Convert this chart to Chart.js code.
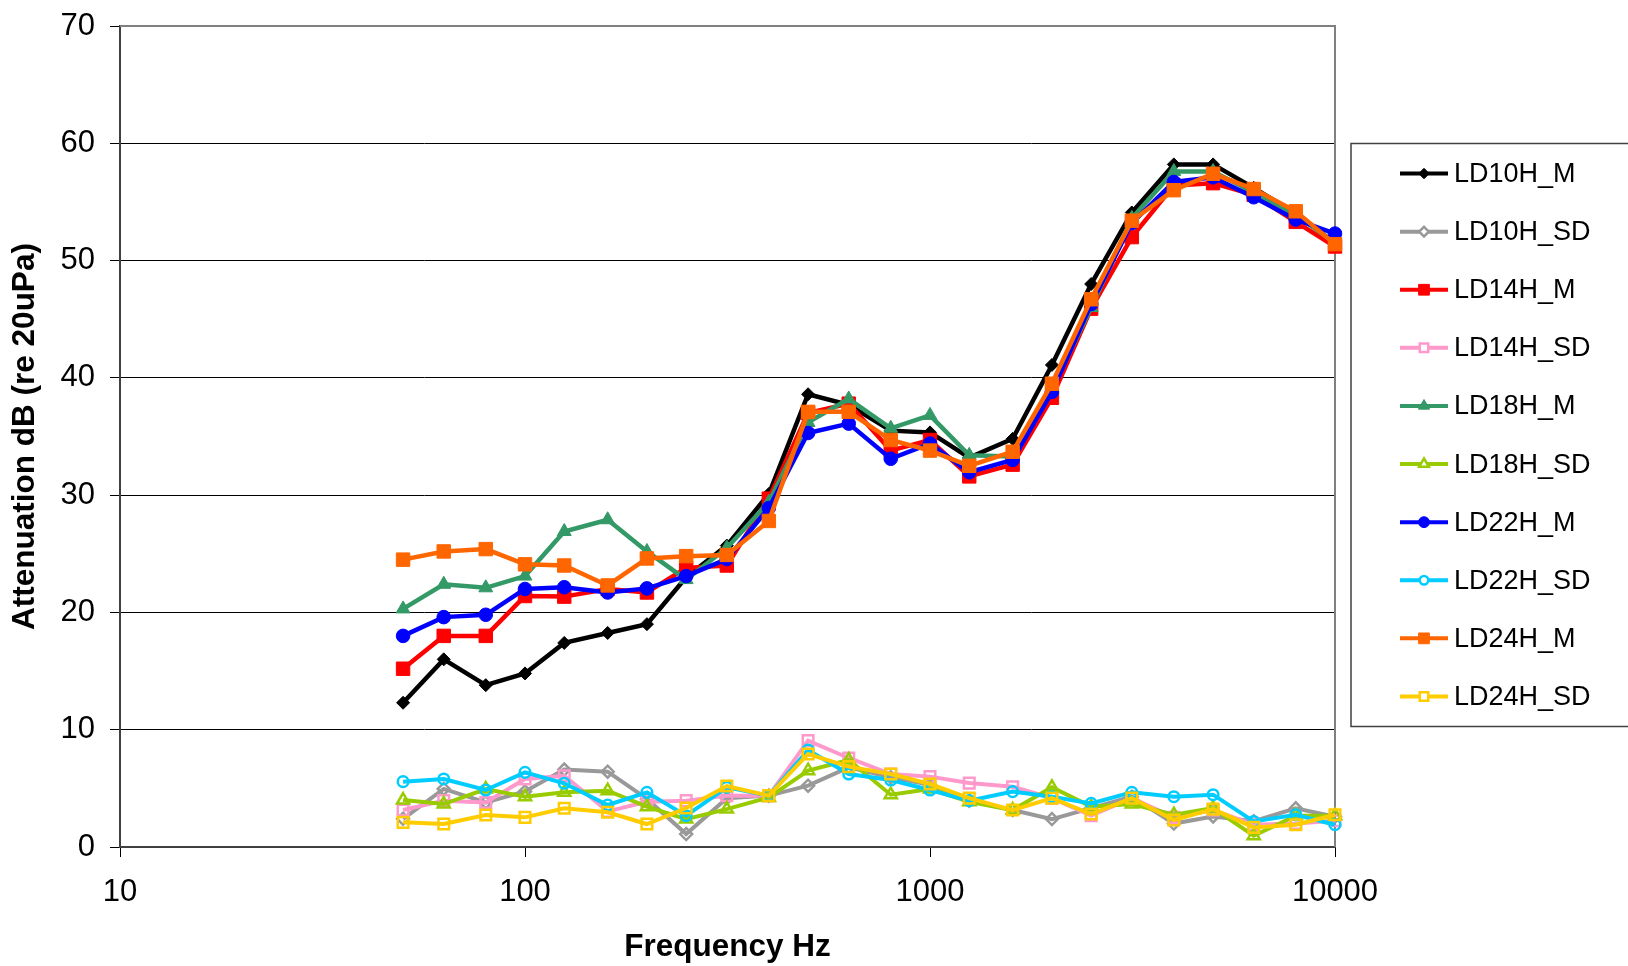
<!DOCTYPE html>
<html lang="en">

<head>
    <meta charset="UTF-8">
    <title>Attenuation by frequency</title>
    <script src="https://cdn.jsdelivr.net/npm/chart.js"></script>
    <style>
        body {
            margin: 0;
            background: #ffffff;
        }

        .chart-container {
            width: 1628px;
            height: 966px;
        }
    </style>
</head>

<body>
    <div class="chart-container">
        <canvas id="attenChart" width="1628" height="966"></canvas>
    </div>

    <script>
        // 1/3 octave band centre frequencies (Hz)
        const freqs = [50, 63, 80, 100, 125, 160, 200, 250, 315, 400, 500, 630, 800, 1000,
            1250, 1600, 2000, 2500, 3150, 4000, 5000, 6300, 8000, 10000];

        const xTicks = [10, 100, 1000, 10000];
        const yTicks = [0, 10, 20, 30, 40, 50, 60, 70];

        const seriesNames = ['LD10H_M', 'LD10H_SD', 'LD14H_M', 'LD14H_SD', 'LD18H_M',
            'LD18H_SD', 'LD22H_M', 'LD22H_SD', 'LD24H_M', 'LD24H_SD'];

        const ld10hM = [12.3, 16.0, 13.8, 14.8, 17.4, 18.25, 19.0, 23.0, 25.7, 30.1, 38.6, 37.7,
            35.5, 35.35, 33.2, 34.8, 41.1, 48.0, 54.1, 58.2, 58.2, 56.2, 54.0, 51.5];
        const ld10hSD = [2.4, 4.95, 3.8, 4.74, 6.6, 6.42, 4.1, 1.1, 4.15, 4.38, 5.23, 6.79,
            5.94, 5.3, 3.95, 3.15, 2.38, 3.32, 4.29, 2.0, 2.6, 2.2, 3.3, 2.58];
        const ld14hM = [15.2, 18.0, 18.0, 21.4, 21.35, 22.0, 21.7, 23.8, 24.0, 29.7, 37.0, 37.8,
            33.8, 34.7, 31.6, 32.6, 38.3, 45.9, 52.0, 56.4, 56.6, 55.6, 53.3, 51.2];
        const ld14hSD = [3.15, 3.95, 3.8, 5.8, 6.08, 3.04, 3.86, 3.95, 4.38, 4.38, 9.07, 7.59,
            6.22, 6.0, 5.45, 5.14, 4.17, 2.67, 4.17, 2.53, 3.15, 1.9, 2.01, 2.24];
        const ld18hM = [20.3, 22.4, 22.1, 23.1, 26.9, 27.9, 25.2, 22.8, 25.5, 29.4, 36.2, 38.2,
            35.7, 36.8, 33.4, 33.3, 39.0, 46.0, 53.6, 57.6, 57.6, 55.8, 53.9, 51.5];
        const ld18hSD = [4.0, 3.66, 4.94, 4.29, 4.66, 4.8, 3.44, 2.38, 3.23, 4.23, 6.51, 7.42,
            4.46, 4.94, 3.86, 3.15, 5.09, 3.44, 3.66, 2.75, 3.32, 0.96, 2.67, 2.67];
        const ld22hM = [18.0, 19.6, 19.8, 22.0, 22.15, 21.7, 22.05, 23.1, 24.55, 28.9, 35.3, 36.1,
            33.1, 34.4, 31.95, 33.0, 38.8, 46.3, 53.2, 56.7, 57.1, 55.4, 53.5, 52.3];
        const ld22hSD = [5.57, 5.8, 4.86, 6.36, 5.43, 3.58, 4.66, 2.67, 5.09, 4.38, 8.27, 6.22,
            5.71, 4.86, 3.95, 4.72, 4.29, 3.72, 4.66, 4.29, 4.46, 2.18, 2.75, 1.9];
        const ld24hM = [24.5, 25.2, 25.4, 24.1, 24.0, 22.3, 24.6, 24.8, 24.9, 27.8, 37.1, 37.1,
            34.7, 33.8, 32.5, 33.7, 39.5, 46.7, 53.4, 56.0, 57.4, 56.1, 54.2, 51.4];
        const ld24hSD = [2.1, 1.96, 2.73, 2.53, 3.3, 2.96, 1.96, 3.32, 5.2, 4.38, 7.93, 6.85,
            6.22, 5.37, 4.17, 3.15, 4.17, 2.81, 4.17, 2.3, 3.23, 1.67, 1.9, 2.75];

        const seriesValues = [ld10hM, ld10hSD, ld14hM, ld14hSD, ld18hM,
            ld18hSD, ld22hM, ld22hSD, ld24hM, ld24hSD];

        const colors = ['#000000', '#999999', '#ff0000', '#ff99cc', '#339966',
            '#99cc00', '#0000ff', '#00ccff', '#ff6600', '#ffcc00'];
        const markers = ['rectRot', 'rectRot', 'rect', 'rect', 'triangle',
            'triangle', 'circle', 'circle', 'rect', 'rect'];
        const markerSize = [6.5, 6, 9.5, 7.5, 8, 7, 6.8, 5.3, 9.5, 7.5];

        const FONT = 'Arial, "Liberation Sans", sans-serif';

        const datasets = seriesNames.map((name, i) => {
            const hollow = name.endsWith('_SD');
            return {
                label: name,
                data: freqs.map((f, j) => ({ x: f, y: seriesValues[i][j] })),
                borderColor: colors[i],
                backgroundColor: colors[i],
                borderWidth: hollow ? 4 : 4.5,
                tension: 0,
                pointStyle: markers[i],
                pointRadius: markerSize[i],
                pointBorderWidth: hollow ? 2.5 : 1,
                pointBorderColor: colors[i],
                pointBackgroundColor: hollow ? 'rgba(0,0,0,0)' : colors[i],
                hollow: hollow,
                clip: false,
                order: seriesNames.length - i // later series drawn on top
            };
        });

        // gray frame on top and right of the plot area
        const plotFrame = {
            id: 'plotFrame',
            beforeDatasetsDraw(chart) {
                const { ctx, chartArea: a } = chart;
                ctx.save();
                ctx.strokeStyle = '#808080';
                ctx.lineWidth = 2;
                ctx.beginPath();
                ctx.moveTo(a.left, a.top);
                ctx.lineTo(a.right, a.top);
                ctx.lineTo(a.right, a.bottom);
                ctx.stroke();
                ctx.restore();
            }
        };

        // legend box with line + marker samples
        const legendBox = {
            id: 'legendBox',
            afterDraw(chart) {
                const { ctx, chartArea: a } = chart;
                const sets = chart.data.datasets;
                const rowGap = 58.1;
                const midY = (a.top + a.bottom) / 2 - 1.5;
                const boxLeft = a.right + 16;
                const boxTop = midY - 291.5;
                const boxH = 583;
                ctx.save();
                ctx.fillStyle = '#ffffff';
                ctx.fillRect(boxLeft, boxTop, chart.width, boxH);
                ctx.strokeStyle = '#404040';
                ctx.lineWidth = 1.5;
                ctx.strokeRect(boxLeft, boxTop, chart.width, boxH);

                const firstY = midY - rowGap * (sets.length - 1) / 2;
                sets.forEach((ds, i) => {
                    const y = firstY + i * rowGap;
                    const x0 = boxLeft + 49, x1 = boxLeft + 97;
                    ctx.strokeStyle = ds.borderColor;
                    ctx.lineWidth = 4;
                    ctx.beginPath();
                    ctx.moveTo(x0, y);
                    ctx.lineTo(x1, y);
                    ctx.stroke();

                    ctx.fillStyle = ds.pointBackgroundColor;
                    ctx.strokeStyle = ds.pointBorderColor;
                    ctx.lineWidth = ds.pointBorderWidth;
                    if (ds.hollow) {
                        // hollow markers look white inside on the legend
                        ctx.fillStyle = '#ffffff';
                    }
                    Chart.helpers.drawPoint(ctx, {
                        pointStyle: ds.pointStyle,
                        radius: ds.pointRadius * 0.8,
                        rotation: 0,
                        borderWidth: ds.pointBorderWidth
                    }, (x0 + x1) / 2, y);

                    ctx.fillStyle = '#000000';
                    ctx.font = '27px ' + FONT;
                    ctx.textBaseline = 'middle';
                    ctx.textAlign = 'left';
                    ctx.fillText(ds.label, x1 + 6, y + 1);
                });
                ctx.restore();
            }
        };

        const ctx = document.getElementById('attenChart').getContext('2d');
        new Chart(ctx, {
            type: 'line',
            data: { datasets: datasets },
            options: {
                responsive: false,
                animation: false,
                layout: {
                    padding: { left: 0, top: 26, right: 293, bottom: 0 }
                },
                plugins: {
                    legend: { display: false },
                    tooltip: { enabled: false }
                },
                scales: {
                    x: {
                        type: 'logarithmic',
                        min: 10,
                        max: 10000,
                        afterBuildTicks: (scale) => {
                            scale.ticks = xTicks.map(v => ({ value: v, major: true }));
                        },
                        afterFit: (scale) => { scale.height = 119; },
                        grid: {
                            drawOnChartArea: false,
                            drawTicks: true,
                            tickLength: 10,
                            color: '#000000',
                            lineWidth: 1
                        },
                        border: { display: true, color: '#404040', width: 2 },
                        ticks: {
                            autoSkip: false,
                            maxRotation: 0,
                            padding: 17,
                            color: '#000000',
                            font: { family: FONT, size: 31 },
                            callback: (v) => String(v)
                        },
                        title: {
                            display: true,
                            text: 'Frequency Hz',
                            color: '#000000',
                            padding: { top: 0, bottom: 0 },
                            font: { family: FONT, size: 31.5, weight: 'bold', lineHeight: 1.2 }
                        }
                    },
                    y: {
                        min: 0,
                        max: 70,
                        afterBuildTicks: (scale) => {
                            scale.ticks = yTicks.map(v => ({ value: v }));
                        },
                        afterFit: (scale) => {
                            scale.width = 120;
                            scale.paddingTop = 0;
                            scale.paddingBottom = 0;
                        },
                        grid: {
                            color: '#000000',
                            lineWidth: 1,
                            tickLength: 10
                        },
                        border: { display: true, color: '#404040', width: 2 },
                        ticks: {
                            padding: 15,
                            color: '#000000',
                            font: { family: FONT, size: 31 }
                        },
                        title: {
                            display: true,
                            text: 'Attenuation dB (re 20uPa)',
                            color: '#000000',
                            padding: { top: 6, bottom: 0 },
                            font: { family: FONT, size: 31.5, weight: 'bold', lineHeight: 1.2 }
                        }
                    }
                }
            },
            plugins: [plotFrame, legendBox]
        });
    </script>
</body>

</html>
